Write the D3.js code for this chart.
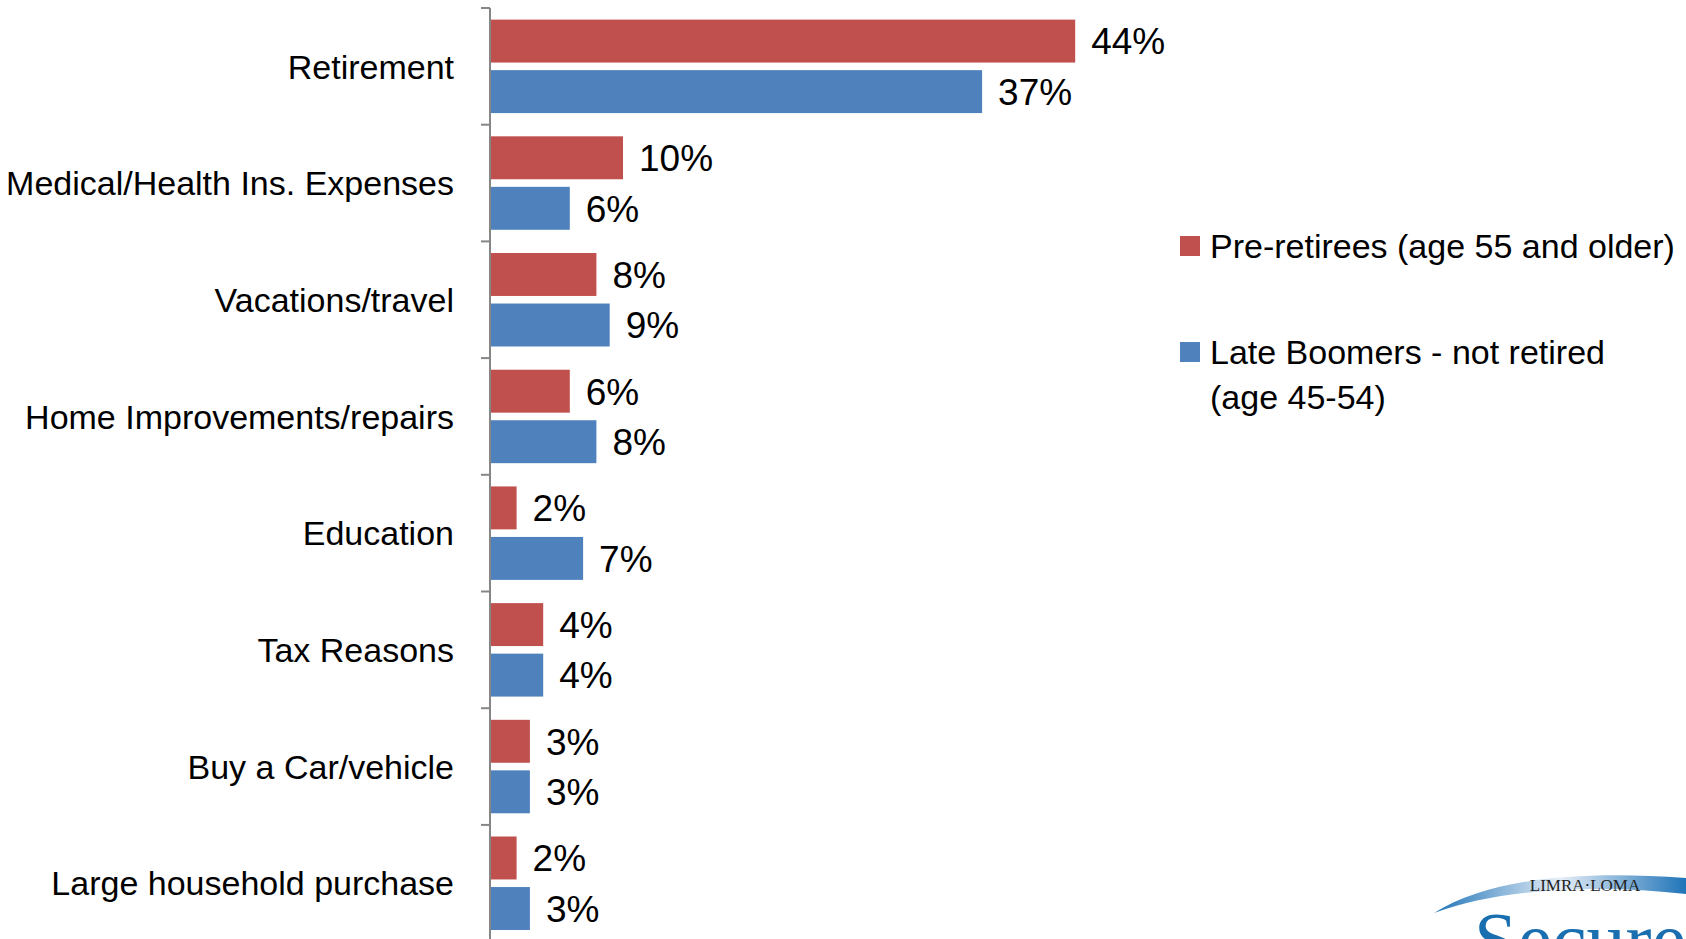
<!DOCTYPE html>
<html>
<head>
<meta charset="utf-8">
<script src="https://cdn.jsdelivr.net/npm/d3@7/dist/d3.min.js"></script>
<style>
  html, body { margin: 0; padding: 0; background: #fff; }
  svg { display: block; }
</style>
</head>
<body>
<svg id="chart" width="1686" height="939"></svg>
<script>
const categories = ["Retirement", "Medical/Health Ins. Expenses", "Vacations/travel", "Home Improvements/repairs", "Education", "Tax Reasons", "Buy a Car/vehicle", "Large household purchase"];
const preRetirees = [44, 10, 8, 6, 2, 4, 3, 2];
const lateBoomers = [37, 6, 9, 8, 7, 4, 3, 3];
const seriesNames = ["Pre-retirees (age 55 and older)", "Late Boomers - not retired (age 45-54)"];
const seriesKeys = ["pre", "late"];
const colors = ["#C0504D", "#4F81BD"];

const FONT = "'Liberation Sans', Arial, sans-serif";
const svg = d3.select("#chart");

const axisX = 490;
const y = d3.scaleBand().domain(categories).range([8, 8 + 8 * 116.7]);
const ySub = d3.scaleBand().domain(seriesKeys).range([0, y.bandwidth()]).paddingInner(0.15).paddingOuter(0.23);
const x = d3.scaleLinear().domain([0, 50]).range([0, 665]);

const data = categories.map((c, i) => ({ cat: c, pre: preRetirees[i], late: lateBoomers[i] }));

// bars
const g = svg.append("g").attr("transform", `translate(${axisX},0)`);
const groups = g.selectAll("g.cat").data(data).join("g")
  .attr("class", "cat")
  .attr("transform", d => `translate(0,${y(d.cat)})`);

seriesKeys.forEach((k, si) => {
  groups.append("rect")
    .attr("x", 0)
    .attr("y", ySub(k))
    .attr("width", d => x(d[k]))
    .attr("height", ySub.bandwidth())
    .attr("fill", colors[si]);
  groups.append("text")
    .attr("x", d => x(d[k]) + 16)
    .attr("y", ySub(k) + ySub.bandwidth() / 2)
    .attr("dy", "0.36em")
    .attr("font-family", FONT)
    .attr("font-size", 37)
    .attr("fill", "#000")
    .text(d => d[k] + "%");
});

// axis
const ticks = d3.range(categories.length + 1).map(i => 8 + i * y.step());
svg.append("line")
  .attr("x1", axisX).attr("x2", axisX)
  .attr("y1", 8).attr("y2", 939)
  .attr("stroke", "#868686").attr("stroke-width", 2);
svg.selectAll("line.tick").data(ticks).join("line")
  .attr("class", "tick")
  .attr("x1", axisX - 9).attr("x2", axisX)
  .attr("y1", d => d).attr("y2", d => d)
  .attr("stroke", "#868686").attr("stroke-width", 2);

// category labels
svg.selectAll("text.cat").data(categories).join("text")
  .attr("class", "cat")
  .attr("x", 454)
  .attr("y", d => y(d) + y.bandwidth() / 2)
  .attr("dy", "0.36em")
  .attr("text-anchor", "end")
  .attr("font-family", FONT)
  .attr("font-size", 34)
  .attr("fill", "#000")
  .text(d => d);

// legend
const legend = svg.append("g");
const legendItems = [
  { color: colors[0], lines: ["Pre-retirees (age 55 and older)"], y: 246 },
  { color: colors[1], lines: ["Late Boomers - not retired", "(age 45-54)"], y: 352 }
];
legendItems.forEach(it => {
  legend.append("rect")
    .attr("x", 1180).attr("y", it.y - 10)
    .attr("width", 20).attr("height", 20)
    .attr("fill", it.color);
  const t = legend.append("text")
    .attr("x", 1210).attr("y", it.y)
    .attr("font-family", FONT)
    .attr("font-size", 34)
    .attr("fill", "#000");
  it.lines.forEach((ln, j) => {
    t.append("tspan").attr("x", 1210).attr("dy", j === 0 ? "0.36em" : "1.33em").text(ln);
  });
});

// logo (decoration)
const defs = svg.append("defs");
const grad = defs.append("linearGradient").attr("id", "swoosh").attr("x1", "0").attr("x2", "1");
grad.append("stop").attr("offset", "0").attr("stop-color", "#1f74b8");
grad.append("stop").attr("offset", "0.5").attr("stop-color", "#e6eef7");
grad.append("stop").attr("offset", "1").attr("stop-color", "#1f74b8");
svg.append("path")
  .attr("d", "M1434,913 C1490,878 1580,870 1686,878 L1686,894 C1600,884 1500,888 1434,913 Z")
  .attr("fill", "url(#swoosh)");
svg.append("text")
  .attr("x", 1585).attr("y", 891)
  .attr("text-anchor", "middle")
  .attr("font-family", "'Liberation Serif', 'DejaVu Serif', serif")
  .attr("font-size", 17)
  .attr("fill", "#222")
  .text("LIMRA\u00B7LOMA");
svg.append("text")
  .attr("x", 1474).attr("y", 966)
  .attr("font-family", "'Liberation Serif', 'DejaVu Serif', serif")
  .attr("font-size", 78)
  .attr("fill", "#1a6fb0")
  .text("Secure");
</script>
</body>
</html>
